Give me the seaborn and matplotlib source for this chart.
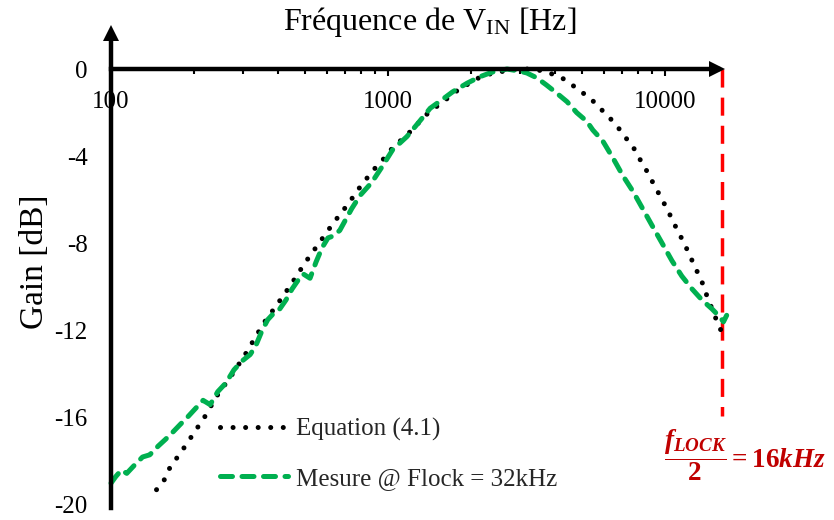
import numpy as np
import pandas as pd
import matplotlib
matplotlib.use("Agg")
import matplotlib.pyplot as plt
import seaborn as sns
from matplotlib.ticker import FixedLocator, FuncFormatter, NullFormatter, LogLocator

sns.set_theme(style="white")
plt.rcParams["font.family"] = ["Liberation Serif", "DejaVu Serif"]
plt.rcParams["mathtext.fontset"] = "custom"
plt.rcParams["mathtext.rm"] = "Liberation Serif:bold"
plt.rcParams["mathtext.it"] = "Liberation Serif:italic:bold"
plt.rcParams["mathtext.bf"] = "Liberation Serif:bold"

# --------------------------------------------------
# Data
# --------------------------------------------------
# Equation (4.1) - theoretical gain
eq_freq = [146, 155, 163, 183, 204, 217, 241, 271, 305, 336, 354, 398, 446, 501,
           563, 632, 717, 804, 918, 985, 1040, 1130, 1220, 1305, 1400, 1600, 1790,
           2130, 2370, 2800, 3170, 3500, 3860, 4240, 4620, 5000, 5450, 5830, 6270,
           6700, 7150, 7620, 7990, 8450, 8860, 9300, 9770, 10250, 10700, 11190,
           11740, 12230, 12750, 13290, 13850, 14310, 14920, 15410, 16070]
eq_gain = [-19.3, -18.9, -18.3, -17.4, -16.5, -16.0, -15.0, -14.1, -13.1, -12.2,
           -11.7, -10.8, -9.9, -8.9, -8.0, -7.1, -6.2, -5.3, -4.4, -4.0, -3.6,
           -3.2, -2.8, -2.4, -2.0, -1.45, -0.96, -0.4, -0.2, -0.03, 0.0, -0.05,
           -0.2, -0.4, -0.73, -1.05, -1.42, -1.8, -2.2, -2.6, -3.1, -3.5, -4.0,
           -4.5, -5.0, -5.5, -6.0, -6.5, -7.0, -7.5, -8.0, -8.5, -9.0, -9.5,
           -10.0, -10.6, -11.1, -11.6, -12.1]

# Mesure @ Flock = 32kHz - measured gain
mes_freq = [100, 104, 109, 114, 121, 130, 138, 148, 157, 166, 178, 188, 201, 215,
            228, 243, 260, 278, 297, 318, 333, 351, 368, 387, 407, 428, 450, 473,
            494, 523, 550, 578, 607, 637, 670, 704, 740, 793, 874, 950, 1040, 1170,
            1300, 1420, 1570, 1710, 1930, 2150, 2380, 2690, 2990, 3170, 3440, 3730,
            4060, 4430, 4800, 5220, 5490, 5960, 6500, 7050, 7650, 8300, 9000, 9770,
            10600, 11500, 12540, 13610, 14760, 15850, 16250, 16700]
mes_gain = [-19.0, -18.7, -18.4, -18.55, -18.2, -17.8, -17.7, -17.3, -17.0, -16.7,
            -16.3, -16.0, -15.6, -15.2, -15.4, -14.8, -14.4, -13.8, -13.4, -13.1,
            -12.7, -12.0, -11.5, -11.2, -11.0, -10.6, -10.1, -9.7, -9.4, -9.6,
            -8.85, -8.2, -7.75, -7.65, -7.4, -6.9, -6.4, -5.8, -5.2, -4.5, -3.7,
            -3.1, -2.4, -1.8, -1.4, -1.05, -0.65, -0.35, -0.14, 0.0, -0.1, -0.18,
            -0.4, -0.73, -1.1, -1.5, -2.0, -2.4, -2.8, -3.3, -4.1, -4.9, -5.6,
            -6.4, -7.2, -8.0, -8.8, -9.5, -10.1, -10.6, -11.0, -11.4, -11.6, -11.3]

x_ticks = [100, 1000, 10000]
y_ticks = [0, -4, -8, -12, -16, -20]
f_half = 16000
red_line_bottom = -15.9

eq_df = pd.DataFrame({"freq": eq_freq, "gain": eq_gain})
mes_df = pd.DataFrame({"freq": mes_freq, "gain": mes_gain})

# --------------------------------------------------
# Figure
# --------------------------------------------------
W, H = 834, 520
fig = plt.figure(figsize=(W / 100, H / 100), dpi=100)
ax = fig.add_axes([111 / W, (H - 508) / H, 614 / W, 483 / H])
ax.set_xscale("log")
ax.set_xlim(100, 10 ** (2 + 614 / 277))
ax.set_ylim(-20.14, 2.02)

# red marker line for f_LOCK / 2
ax.plot([f_half, f_half], [0, red_line_bottom], color="#FF0000", lw=2.5,
        linestyle=(0, (5.2, 2.9)), dash_capstyle="butt", zorder=2)

sns.lineplot(data=eq_df, x="freq", y="gain", ax=ax, color="black", lw=3.6,
             linestyle=(0, (0.01, 2.5)), dash_capstyle="round",
             label="Equation (4.1)", clip_on=False, zorder=3)
sns.lineplot(data=mes_df, x="freq", y="gain", ax=ax, color="#00B050", lw=3.6,
             linestyle=(0, (2.4, 1.9)), dash_capstyle="round",
             label="Mesure @ Flock = 32kHz", clip_on=False, zorder=4)

# axes as arrows crossing at (100 Hz, 0 dB)
for side in ["top", "right"]:
    ax.spines[side].set_visible(False)
ax.spines["bottom"].set_position(("data", 0))
ax.spines["bottom"].set_bounds(100, 15500)
ax.spines["left"].set_bounds(-20.14, 1.4)
for side in ["bottom", "left"]:
    ax.spines[side].set_linewidth(3.2)
    ax.spines[side].set_color("black")
    ax.spines[side].set_zorder(5)
ax.plot(15370, 0, marker=">", markersize=12, color="black", mew=0,
        clip_on=False, zorder=6)
ax.plot(0, 1.64, marker="^", markersize=12, color="black", mew=0,
        transform=ax.get_yaxis_transform(), clip_on=False, zorder=6)

ax.xaxis.set_major_locator(FixedLocator(x_ticks))
ax.xaxis.set_major_formatter(FuncFormatter(lambda v, p: f"{int(v)}"))
ax.xaxis.set_minor_locator(LogLocator(base=10, subs=np.arange(2, 10)))
ax.xaxis.set_minor_formatter(NullFormatter())
ax.tick_params(axis="x", which="major", direction="out", length=5, width=1.5,
               color="black", pad=11, labelsize=18, labelcolor="black", bottom=True)
ax.tick_params(axis="x", which="minor", direction="out", length=3.5, width=1.5,
               color="black", bottom=True)

ax.set_yticks(y_ticks)
ax.yaxis.set_major_formatter(FuncFormatter(lambda v, p: f"{int(v)}"))
ax.tick_params(axis="y", which="major", length=0, pad=17, labelsize=18,
               labelcolor="black")
ax.set_xlabel("")
ax.set_ylabel("")
ax.grid(False)

fig.text(430 / W, 1 - 22 / H, r"Fréquence de V$_{\mathregular{IN}}$ [Hz]",
         fontsize=23, ha="center", va="center", color="black")
fig.text(35 / W, 1 - 262 / H, "Gain [dB]", fontsize=24, rotation=90,
         ha="center", va="center", color="black")
fig.text(664 / W, 1 - 455 / H, r"$\dfrac{f_{LOCK}}{2}=16kHz$", fontsize=19.5,
         ha="left", va="center", color="#C00000")

ax.legend(loc="upper left", bbox_to_anchor=(220 / W, (H - 418) / H),
          bbox_transform=fig.transFigure, frameon=False, fontsize=18,
          handlelength=2.7, handletextpad=0.35, labelspacing=1.05,
          borderpad=0, borderaxespad=0)

fig.savefig("out.png", dpi=100)
